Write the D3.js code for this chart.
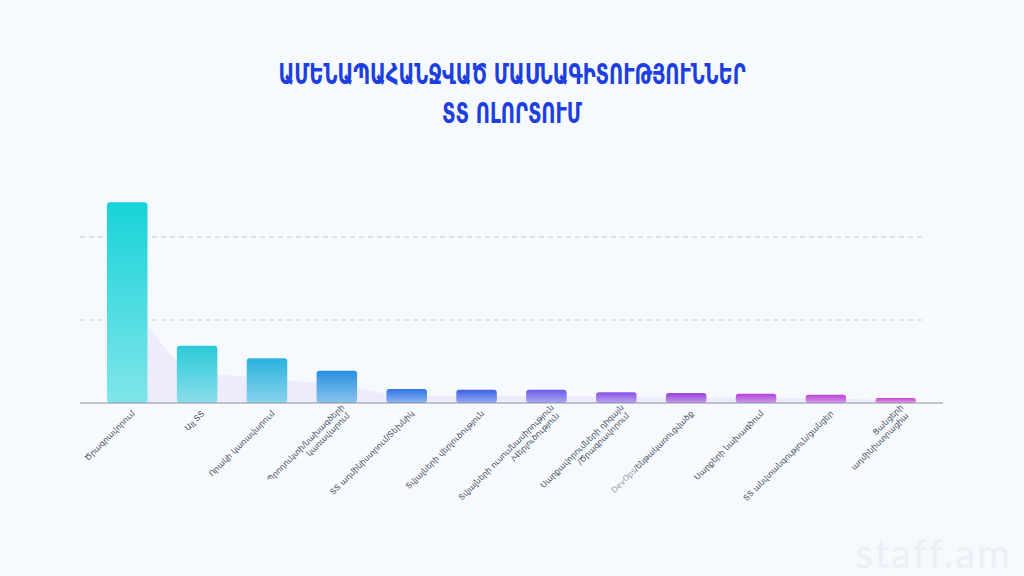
<!DOCTYPE html>
<html><head><meta charset="utf-8">
<script src="https://cdn.jsdelivr.net/npm/d3@7"></script>
<style>body{margin:0;background:#f6f9fd;}svg{display:block}</style>
</head><body><svg id="c" width="1024" height="576"></svg>
<script>
const categories = [
 ["Ծրագրավորում"],["Այլ ՏՏ"],["Որակի կառավարում"],["Պրոդուկտի/նախագծերի","կառավարում"],
 ["ՏՏ ադմինիստրում/Տեխնիկ"],["Տվյալների վերլուծություն"],["Տվյալների ուսումնասիրություն","/Վերլուծություն"],
 ["Սարքավորումների դիզայն","/Ծրագրավորում"],["DevOps/ենթակառուցվածք"],["Սարքերի նախագծում"],
 ["ՏՏ անվտանգություն/ցանցեր"],["Ցանցերի","ադմինիստրացիա"]];
const values = [242,69,54,39,17,16,16,13,12,11,10,6];
const colors = ["#17d3d8","#2cc8d8","#2ab2dc","#2a90e0","#2f73e6","#3f5fe8","#6a5ce8","#8a4fe4","#9a3fd8","#b23fd8","#c040d6","#cc46d4"];
const yTicks = [100,200];

const svg = d3.select("#c");
const defs = svg.append("defs");
colors.forEach((c,i)=>{
  const g = defs.append("linearGradient").attr("id","g"+i).attr("x1",0).attr("y1",0).attr("x2",0).attr("y2",1);
  g.append("stop").attr("offset","0%").attr("stop-color",c);
  g.append("stop").attr("offset","100%").attr("stop-color",d3.interpolateRgb(c,"#e8f6fb")(0.5));
});
const x = d3.scaleBand().domain(d3.range(categories.length)).range([93,930]).paddingInner(0.42).paddingOuter(0.2);
const y = d3.scaleLinear().domain([0,100]).range([403,320]);

const tf = "DejaVu Sans Condensed, DejaVu Sans";
svg.append("text").attr("x",512).attr("y",84).attr("text-anchor","middle")
 .attr("font-family",tf).attr("font-weight","bold").attr("font-size",24)
 .attr("fill","#1d3fe0").attr("transform","translate(512,84) scale(0.9,1.15) translate(-512,-84)").text("ԱՄԵՆԱՊԱՀԱՆՋՎԱԾ ՄԱՍՆԱԳԻՏՈՒԹՅՈՒՆՆԵՐ");
svg.append("text").attr("x",512).attr("y",123).attr("text-anchor","middle")
 .attr("font-family",tf).attr("font-weight","bold").attr("font-size",24)
 .attr("fill","#1d3fe0").attr("transform","translate(512,123) scale(0.9,1.15) translate(-512,-123)").text("ՏՏ ՈԼՈՐՏՈՒՄ");

svg.selectAll(".grid").data(yTicks).join("line")
 .attr("x1",80).attr("x2",925).attr("y1",d=>y(d)).attr("y2",d=>y(d))
 .attr("stroke","#c9ccd4").attr("stroke-dasharray","5,4");

const area = d3.area().curve(d3.curveMonotoneX)
 .x((d,i)=>x(i)+x.bandwidth()/2).y0(403).y1(d=>y(d*0.55));
svg.append("path").datum(values).attr("d",area).attr("fill","#ece8fb").attr("opacity",0.8);

svg.selectAll(".bar").data(values).join("rect")
 .attr("x",(d,i)=>x(i)).attr("width",x.bandwidth())
 .attr("y",d=>y(d)).attr("height",d=>403-y(d)).attr("rx",3)
 .attr("fill",(d,i)=>`url(#g${i})`);

svg.append("line").attr("x1",80).attr("x2",943).attr("y1",403).attr("y2",403).attr("stroke","#8a8f99");

const lab = svg.selectAll(".lab").data(categories).join("text")
 .attr("transform",(d,i)=>`translate(${x(i)+x.bandwidth()/2+8},${d.length>1?408:414}) rotate(-45)`)
 .attr("text-anchor","end").attr("font-family","DejaVu Sans").attr("font-size",8).attr("fill","#4a5060");
lab.each(function(d){
  const t=d3.select(this);
  d.forEach((s,j)=>{
    const ts=t.append("tspan").attr("x",j?-2:0).attr("dy",j?9.5:0);
    if(s.startsWith("DevOps")){ts.append("tspan").attr("fill","#9aa0ab").text("DevOps");ts.append("tspan").text(s.slice(6));}
    else ts.text(s);
  });
});

svg.append("text").attr("x",1012).attr("y",568).attr("text-anchor","end")
 .attr("font-family","Lato, sans-serif").attr("font-size",40).attr("letter-spacing",2).attr("fill","#eceff6").text("staff.am");
</script></body></html>
